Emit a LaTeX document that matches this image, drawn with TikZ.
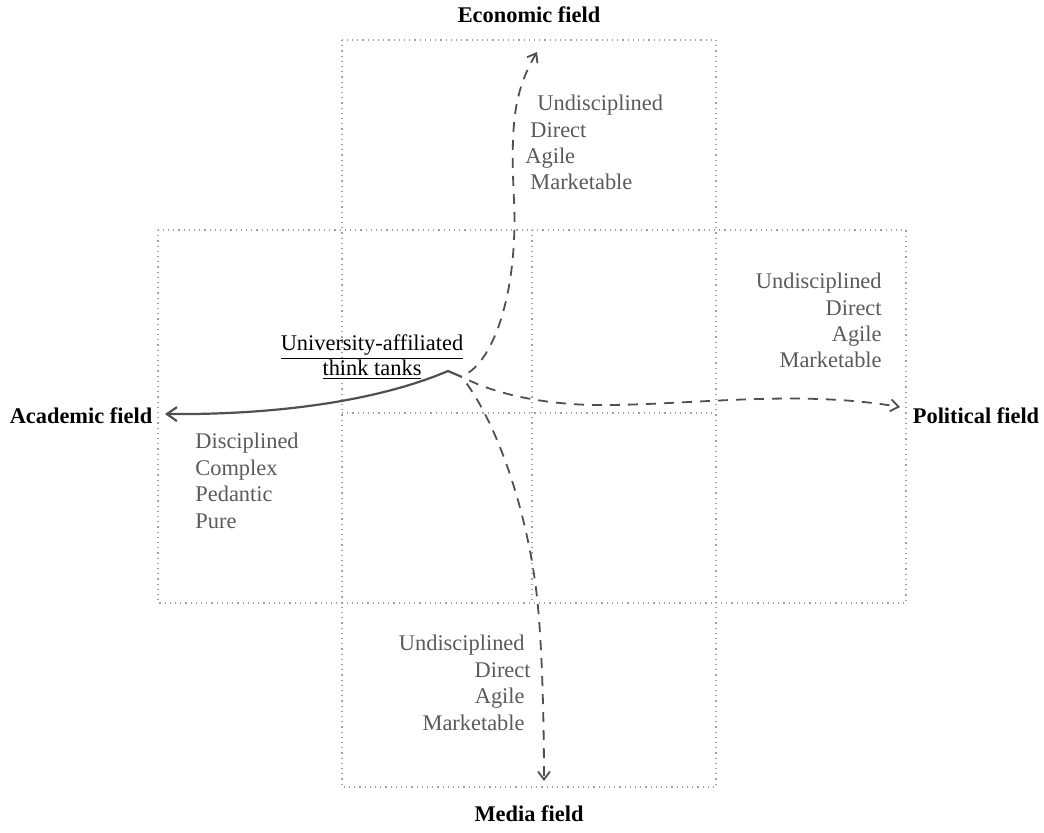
\documentclass[tikz,border=0pt]{standalone}
\usepackage{fontspec}
\setmainfont{Liberation Serif}
\usetikzlibrary{arrows.meta}
\definecolor{txtgray}{HTML}{5A5A5A}
\definecolor{linegray}{HTML}{505050}
\definecolor{boxgray}{HTML}{A0A0A0}
\tikzset{
	field/.style={font=\bfseries\fontsize{11.2}{13.25}\selectfont, inner sep=0pt},
	trait/.style={text=txtgray, font=\fontsize{11.2}{13.25}\selectfont, inner sep=0pt},
	box/.style={boxgray, dotted, line width=0.6pt},
	pull/.style={linegray, dash pattern=on 5pt off 4pt, line width=0.9pt, -{Straight Barb[length=4pt,width=6pt]}, shorten <=4pt},
}
\begin{document}
\begin{tikzpicture}[x=0.5pt,y=-0.5pt]
		\useasboundingbox (0,0) rectangle (1044,832);
		%field boxes
		\draw[box] (342,40) rectangle (716,787);
		\draw[box] (158,230) rectangle (906,603);
		\draw[box] (342,413) -- (716,413);
		\draw[box] (532,230) -- (532,603);
		
		%field names
		\node[field, anchor=base] (econ) at (529,22){Economic field};
		\node[field, anchor=base] (media) at (529,821){Media field};
		\node[field, anchor=base] (acad) at (81,423){Academic field};
		\node[field, anchor=base] (pol) at (976,423){Political field};
		
		%think tanks
		\node[text=black, font=\fontsize{11.2}{12.5}\selectfont, align=center, inner sep=0pt] (tt) at (372,357)
			{\underline{University-affiliated}\\\underline{think tanks}};
		\coordinate (hub) at (462,377);
		\coordinate (econ end) at (537,52);
		\coordinate (media end) at (544,781);
		\coordinate (acad end) at (165,414);
		\coordinate (pol end) at (900,407);
		
		%pulls
		\draw[linegray, line width=1.1pt, -{Straight Barb[length=5pt,width=7pt]}] (hub) -- (448,371) .. controls (380,400) and (280,415) .. (acad end);
		\draw[pull] (hub) .. controls (495,355) and (518,290) .. (514,200) .. controls (510,120) and (515,90) .. (econ end);
		\draw[pull] (hub) .. controls (500,395) and (550,406) .. (610,405) .. controls (700,404) and (800,390) .. (pol end);
		\draw[pull] (hub) .. controls (500,430) and (530,520) .. (538,607) .. controls (542,650) and (544,720) .. (media end);
		
		%traits
		\foreach \x/\y/\w in {537/110/Undisciplined, 530/137/Direct, 525/163/Agile, 530/189/Marketable}{
			\node[trait, anchor=base west] at (\x,\y){\w};
		}
		\foreach \y/\w in {288/Undisciplined, 315/Direct, 341/Agile, 367/Marketable}{
			\node[trait, anchor=base east] at (882,\y){\w};
		}
		\foreach \x/\y/\w in {525/650/Undisciplined, 531/677/Direct, 525/703/Agile, 525/730/Marketable}{
			\node[trait, anchor=base east] at (\x,\y){\w};
		}
		\foreach \y/\w in {448/Disciplined, 475/Complex, 501/Pedantic, 528/Pure}{
			\node[trait, anchor=base west] at (195,\y){\w};
		}
\end{tikzpicture}
\end{document}
